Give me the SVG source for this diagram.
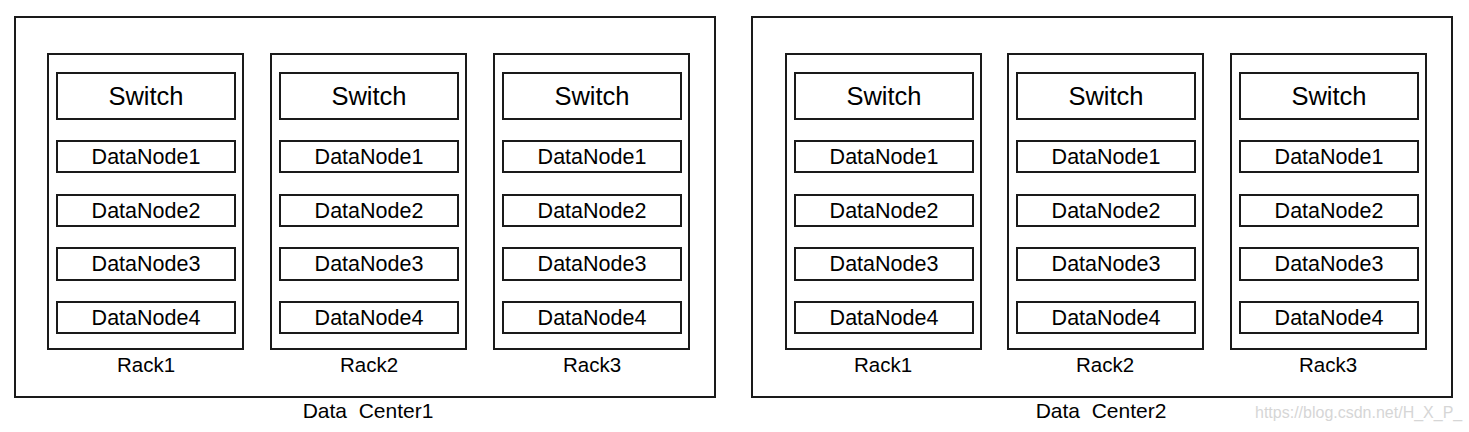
<svg xmlns="http://www.w3.org/2000/svg" width="1469" height="432" viewBox="0 0 1469 432">
<style>
rect{fill:#fff;stroke:#1a1a1a;stroke-width:2}
text{font-family:"Liberation Sans",Arial,sans-serif;fill:#000;text-anchor:middle}
.sw{font-size:25.5px;dominant-baseline:central}
.dn{font-size:21.5px;dominant-baseline:central}
.lb{font-size:20.5px}
.dc{font-size:21px}
.wm{font-size:16px;fill:#d6d6d6;text-anchor:start}
</style>
<defs>
<g id="rackbody">
<rect x="0" y="0" width="195" height="295"/>
<rect x="9" y="19" width="178" height="46"/>
<rect x="9" y="87" width="178" height="31"/>
<rect x="9" y="141" width="178" height="31"/>
<rect x="9" y="194" width="178" height="32"/>
<rect x="9" y="248" width="178" height="31"/>
<text class="sw" x="98" y="42">Switch</text>
<text class="dn" x="98" y="103">DataNode1</text>
<text class="dn" x="98" y="157">DataNode2</text>
<text class="dn" x="98" y="210">DataNode3</text>
<text class="dn" x="98" y="264">DataNode4</text>
</g>
</defs>
<g id="dc1">
<rect x="15" y="17" width="700" height="380"/>
<text class="dc" x="368" y="418" xml:space="preserve">Data  Center1</text>
</g>
<g id="dc2">
<rect x="752" y="17" width="700" height="380"/>
<text class="dc" x="1101" y="418" xml:space="preserve">Data  Center2</text>
</g>
<g id="dc1-rack1"><use href="#rackbody" x="48" y="54"/><text class="lb" x="146" y="372">Rack1</text></g>
<g id="dc1-rack2"><use href="#rackbody" x="271" y="54"/><text class="lb" x="369" y="372">Rack2</text></g>
<g id="dc1-rack3"><use href="#rackbody" x="494" y="54"/><text class="lb" x="592" y="372">Rack3</text></g>
<g id="dc2-rack1"><use href="#rackbody" x="786" y="54"/><text class="lb" x="883" y="372">Rack1</text></g>
<g id="dc2-rack2"><use href="#rackbody" x="1008" y="54"/><text class="lb" x="1105" y="372">Rack2</text></g>
<g id="dc2-rack3"><use href="#rackbody" x="1231" y="54"/><text class="lb" x="1328" y="372">Rack3</text></g>
<g id="connectors"/>
<text class="wm" x="1255" y="418">https://blog.csdn.net/H_X_P_</text>
</svg>
